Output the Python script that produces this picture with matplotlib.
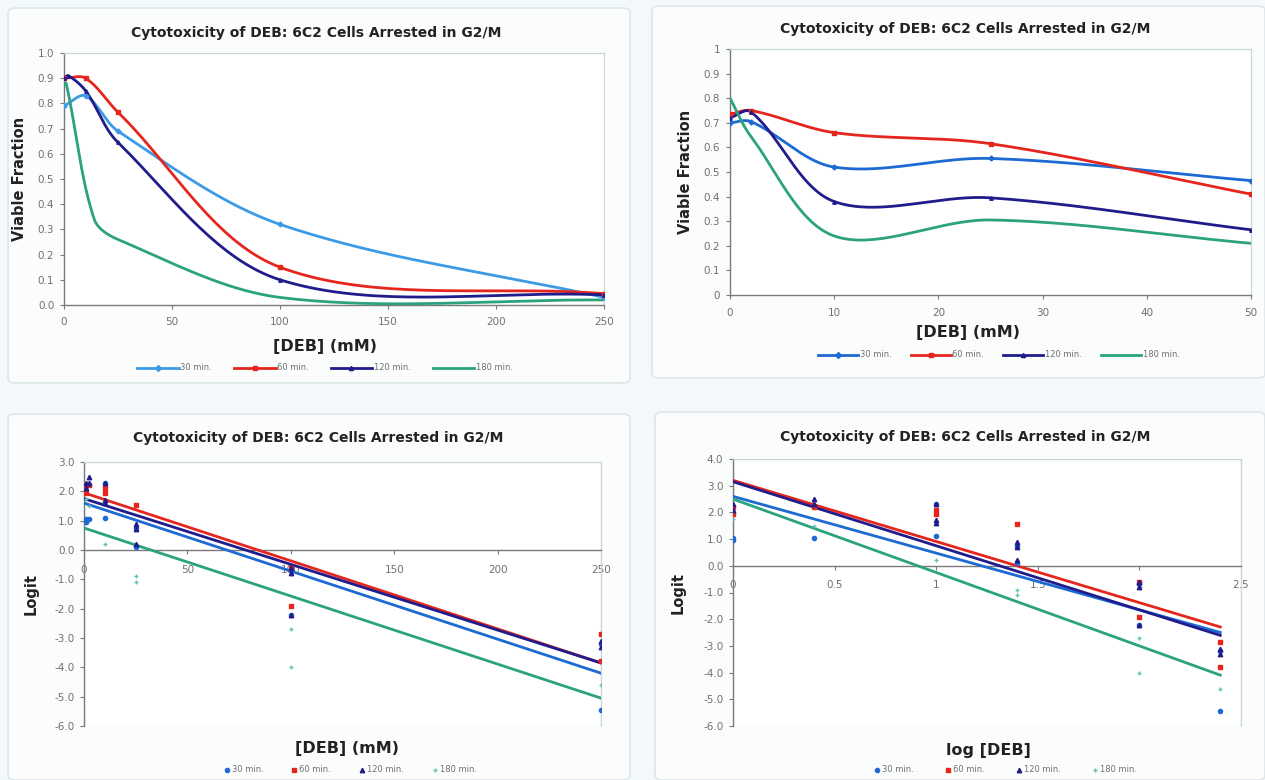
import numpy as np
import matplotlib
matplotlib.use("Agg")
import matplotlib.pyplot as plt
from matplotlib.patches import FancyBboxPatch, Rectangle
from matplotlib.lines import Line2D
from matplotlib.ticker import FormatStrFormatter, FuncFormatter

# ---------------- data ----------------
chart_title = "Cytotoxicity of DEB: 6C2 Cells Arrested in G2/M"
series_names = ["30 min.", "60 min.", "120 min.", "180 min."]

# Top-left: viable fraction vs [DEB] (mM)
tl_dose_30 = [0, 10, 25, 100, 250]
tl_vf_30 = [0.79, 0.83, 0.69, 0.32, 0.03]
tl_dose_60 = [0, 10, 25, 100, 250]
tl_vf_60 = [0.90, 0.90, 0.765, 0.15, 0.045]
tl_dose_120 = [0, 2, 10, 25, 100, 250]
tl_vf_120 = [0.90, 0.91, 0.85, 0.645, 0.10, 0.04]
tl_dose_180 = [0, 1, 14, 25, 100, 250]
tl_vf_180 = [0.87, 0.88, 0.34, 0.26, 0.03, 0.02]

# Top-right: viable fraction vs [DEB] (mM), 0-50 mM
tr_dose = [0, 2, 10, 25, 50]
tr_vf_30 = [0.70, 0.705, 0.52, 0.555, 0.465]
tr_vf_60 = [0.735, 0.75, 0.66, 0.615, 0.41]
tr_vf_120 = [0.72, 0.745, 0.38, 0.395, 0.265]
tr_vf_180 = [0.80, 0.645, 0.24, 0.305, 0.21]

# Bottom: logit of viable fraction (replicates) at each dose (mM)
logit_dose_30 = [1, 1, 2.5, 10, 10, 25, 25, 100, 100, 250, 250]
logit_val_30 = [0.95, 1.05, 1.05, 1.1, 2.3, 0.1, 0.75, -0.7, -2.2, -3.2, -5.45]
logit_dose_60 = [1, 1, 2.5, 10, 10, 25, 100, 100, 250, 250]
logit_val_60 = [1.95, 2.2, 2.2, 2.1, 1.95, 1.55, -0.6, -1.9, -2.85, -3.8]
logit_dose_120 = [1, 1, 2.5, 2.5, 10, 10, 10, 25, 25, 25, 100, 100, 100, 250, 250]
logit_val_120 = [2.3, 2.1, 2.5, 2.3, 1.7, 1.6, 2.3, 0.9, 0.7, 0.2, -0.6, -0.8, -2.2, -3.1, -3.3]
logit_dose_180 = [1, 2.5, 10, 25, 25, 100, 100, 250]
logit_val_180 = [1.75, 1.5, 0.2, -0.9, -1.1, -2.7, -4.0, -4.6]

# Trend lines (intercept, slope)
bl_intercepts = [1.60, 1.95, 1.75, 0.75]
bl_slopes = [-0.0232, -0.0232, -0.0224, -0.0232]
br_intercepts = [2.60, 3.20, 3.15, 2.50]
br_slopes = [-2.125, -2.29, -2.40, -2.75]

# ---------------- styling ----------------
W, H = 1265, 780
C_BLUE_L = "#3C9BE6"
C_BLUE = "#1D6AD2"
C_RED = "#E5261E"
C_NAVY = "#211C8C"
C_GREEN = "#2BA37E"
C_TEAL = "#5FC2B2"
TICK_C = "#707070"
AX_C = "#7a7a7a"
BORDER_C = "#c9d6dc"
TXT_C = "#222222"

plt.rcParams["font.family"] = ["DejaVu Sans"]

fig = plt.figure(figsize=(W / 100, H / 100), dpi=100, facecolor="#f3f8fa")


def frac_rect(l, r, t, b):
    return [l / W, 1 - b / H, (r - l) / W, (b - t) / H]


# chart boxes
for (l, t, r, b) in [(8, 8, 630, 383), (652, 6, 1265, 378), (8, 414, 630, 780), (655, 412, 1265, 780)]:
    fig.patches.append(FancyBboxPatch((l / W, 1 - b / H), (r - l) / W, (b - t) / H,
                                      boxstyle="round,pad=0.0,rounding_size=0.006",
                                      transform=fig.transFigure, facecolor="#fbfdfd",
                                      edgecolor="#dde6ea", linewidth=1.2, zorder=-10))


def smooth_curve(xs, ys, sx, sy, n=40):
    P = np.column_stack([np.asarray(xs, float) * sx, np.asarray(ys, float) * sy])
    m = len(P)
    pts = [P[0:1]]
    for i in range(m - 1):
        p1, p2 = P[i], P[i + 1]
        p0 = P[i - 1] if i > 0 else P[i]
        p3 = P[i + 2] if i + 2 < m else P[i + 1]
        d1 = np.linalg.norm(p2 - p1)
        d0 = np.linalg.norm(p1 - p0)
        d2 = np.linalg.norm(p3 - p2)
        c1 = p1 + (p2 - p0) * (d1 / (d0 + d1)) / 3.0
        c2 = p2 - (p3 - p1) * (d1 / (d1 + d2)) / 3.0
        t = np.linspace(0, 1, n)[1:, None]
        seg = ((1 - t) ** 3) * p1 + 3 * ((1 - t) ** 2) * t * c1 + 3 * (1 - t) * t ** 2 * c2 + t ** 3 * p2
        pts.append(seg)
    Q = np.vstack(pts)
    return Q[:, 0] / sx, Q[:, 1] / sy


def style_axes(ax, zero_axis=False, xpad=6):
    ax.set_facecolor("white")
    for s in ["top", "right"]:
        ax.spines[s].set_color(BORDER_C)
        ax.spines[s].set_linewidth(0.9)
    ax.spines["left"].set_color(AX_C)
    ax.spines["left"].set_linewidth(1.0)
    ax.spines["bottom"].set_color(AX_C)
    ax.spines["bottom"].set_linewidth(1.0)
    if zero_axis:
        ax.spines["bottom"].set_position(("data", 0))
        ax.add_patch(Rectangle((0, 0), 1, 1, transform=ax.transAxes, fill=False,
                               edgecolor=BORDER_C, linewidth=0.9, zorder=0.5))
    ax.tick_params(axis="both", labelsize=7.5, labelcolor=TICK_C, color=AX_C,
                   direction="out", length=3, width=0.8)
    ax.tick_params(axis="x", pad=xpad)
    ax.tick_params(axis="y", pad=4)


def add_texts(rect_px, title_y, xlabel, xlabel_y, ylabel, ylabel_x, title_x, xlabel_x):
    fig.text(title_x / W, 1 - title_y / H, chart_title, ha="center", va="center",
             fontsize=10, fontweight="bold", color=TXT_C)
    fig.text(xlabel_x / W, 1 - xlabel_y / H, xlabel, ha="center", va="center",
             fontsize=11.5, fontweight="bold", color=TXT_C)
    l, r, t, b = rect_px
    fig.text(ylabel_x / W, 1 - ((t + b) / 2) / H, ylabel, ha="center", va="center",
             rotation=90, fontsize=10.5, fontweight="bold", color=TXT_C)


# ---------------- top-left ----------------
rect = (64, 604, 53, 305)
ax1 = fig.add_axes(frac_rect(*rect))
style_axes(ax1)
ax1.set_xlim(0, 250)
ax1.set_ylim(0, 1.0)
sx = (rect[1] - rect[0]) / 250.0
sy = (rect[3] - rect[2]) / 1.0
tl_sets = [(tl_dose_30, tl_vf_30, C_BLUE_L, "D"), (tl_dose_60, tl_vf_60, C_RED, "s"),
           (tl_dose_120, tl_vf_120, C_NAVY, "^"), (tl_dose_180, tl_vf_180, C_GREEN, None)]
handles = []
for (xs, ys, c, mk), name in zip(tl_sets, series_names):
    cx, cy = smooth_curve(xs, ys, sx, sy)
    ax1.plot(cx, cy, color=c, lw=2.0, solid_capstyle="round", zorder=3)
    if mk:
        ax1.plot(xs, ys, ls="none", marker=mk, ms=2.5, color=c, zorder=4)
    handles.append(Line2D([0], [0], color=c, lw=2.0, marker=mk, ms=3))
ax1.set_xticks(np.arange(0, 251, 50))
ax1.set_yticks(np.arange(0, 1.01, 0.1))
ax1.yaxis.set_major_formatter(FormatStrFormatter("%.1f"))
add_texts(rect, 33, "[DEB] (mM)", 347, "Viable Fraction", 20, 316, 325)
fig.legend(handles, series_names, loc="center", bbox_to_anchor=(325 / W, 1 - 368 / H), ncol=4,
           frameon=False, fontsize=6, handlelength=5.0, columnspacing=2.6, handletextpad=0.2,
           labelcolor=TICK_C)

# ---------------- top-right ----------------
rect = (730, 1251, 49, 295)
ax2 = fig.add_axes(frac_rect(*rect))
style_axes(ax2)
ax2.set_xlim(0, 50)
ax2.set_ylim(0, 1.0)
sx = (rect[1] - rect[0]) / 50.0
sy = (rect[3] - rect[2]) / 1.0
tr_sets = [(tr_vf_30, C_BLUE, "D"), (tr_vf_60, C_RED, "s"), (tr_vf_120, C_NAVY, "^"), (tr_vf_180, C_GREEN, None)]
handles = []
for (ys, c, mk), name in zip(tr_sets, series_names):
    cx, cy = smooth_curve(tr_dose, ys, sx, sy)
    ax2.plot(cx, cy, color=c, lw=2.0, solid_capstyle="round", zorder=3)
    if mk:
        ax2.plot(tr_dose, ys, ls="none", marker=mk, ms=2.5, color=c, zorder=4)
    handles.append(Line2D([0], [0], color=c, lw=2.0, marker=mk, ms=3))
ax2.set_xticks(np.arange(0, 51, 10))
ax2.set_yticks(np.arange(0, 1.01, 0.1))
ax2.yaxis.set_major_formatter(FuncFormatter(lambda v, p: "%g" % round(v, 1)))
add_texts(rect, 29, "[DEB] (mM)", 332, "Viable Fraction", 686, 965, 968)
fig.legend(handles, series_names, loc="center", bbox_to_anchor=(999 / W, 1 - 355 / H), ncol=4,
           frameon=False, fontsize=6, handlelength=4.8, columnspacing=2.3, handletextpad=0.2,
           labelcolor=TICK_C)

# ---------------- bottom panels ----------------
logit_sets = [(logit_dose_30, logit_val_30, C_BLUE, "o", 3.0),
              (logit_dose_60, logit_val_60, C_RED, "s", 3.0),
              (logit_dose_120, logit_val_120, C_NAVY, "^", 3.2),
              (logit_dose_180, logit_val_180, C_TEAL, "+", 3.5)]
line_colors = [C_BLUE, C_RED, C_NAVY, C_GREEN]

# bottom-left (linear dose)
rect = (84, 601, 462, 726)
ax3 = fig.add_axes(frac_rect(*rect))
style_axes(ax3, zero_axis=True, xpad=7.5)
ax3.set_xlim(0, 250)
ax3.set_ylim(-6, 3)
xfit = np.array([0.0, 250.0])
for i, c in enumerate(line_colors):
    ax3.plot(xfit, bl_intercepts[i] + bl_slopes[i] * xfit, color=c, lw=2.0, zorder=3)
handles = []
for (xs, ys, c, mk, ms), name in zip(logit_sets, series_names):
    ax3.plot(xs, ys, ls="none", marker=mk, ms=ms, color=c, mew=1.0, zorder=4)
    handles.append(Line2D([0], [0], ls="none", marker=mk, ms=ms, color=c, mew=1.0))
ax3.set_xticks(np.arange(0, 251, 50))
ax3.set_yticks(np.arange(-6, 3.01, 1.0))
ax3.yaxis.set_major_formatter(FormatStrFormatter("%.1f"))
add_texts(rect, 438, "[DEB] (mM)", 748, "Logit", 31, 318, 347)
fig.legend(handles, series_names, loc="center", bbox_to_anchor=(350 / W, 1 - 770 / H), ncol=4,
           frameon=False, fontsize=6, handlelength=0.8, columnspacing=3.3, handletextpad=0.2,
           labelcolor=TICK_C)

# bottom-right (log dose)
rect = (733, 1241, 459, 726)
ax4 = fig.add_axes(frac_rect(*rect))
style_axes(ax4, zero_axis=True, xpad=7.5)
ax4.set_xlim(0, 2.5)
ax4.set_ylim(-6, 4)
xfit = np.array([0.0, np.log10(250.0)])
for i, c in enumerate(line_colors):
    ax4.plot(xfit, br_intercepts[i] + br_slopes[i] * xfit, color=c, lw=2.0, zorder=3)
handles = []
for (xs, ys, c, mk, ms), name in zip(logit_sets, series_names):
    ax4.plot(np.log10(xs), ys, ls="none", marker=mk, ms=ms, color=c, mew=1.0, zorder=4)
    handles.append(Line2D([0], [0], ls="none", marker=mk, ms=ms, color=c, mew=1.0))
ax4.set_xticks(np.arange(0, 2.51, 0.5))
ax4.xaxis.set_major_formatter(FuncFormatter(lambda v, p: "%g" % round(v, 1)))
ax4.set_yticks(np.arange(-6, 4.01, 1.0))
ax4.yaxis.set_major_formatter(FormatStrFormatter("%.1f"))
add_texts(rect, 437, "log [DEB]", 750, "Logit", 678, 965, 988)
fig.legend(handles, series_names, loc="center", bbox_to_anchor=(1005 / W, 1 - 770 / H), ncol=4,
           frameon=False, fontsize=6, handlelength=0.8, columnspacing=3.7, handletextpad=0.2,
           labelcolor=TICK_C)

fig.savefig("out.png", dpi=100, facecolor=fig.get_facecolor())
